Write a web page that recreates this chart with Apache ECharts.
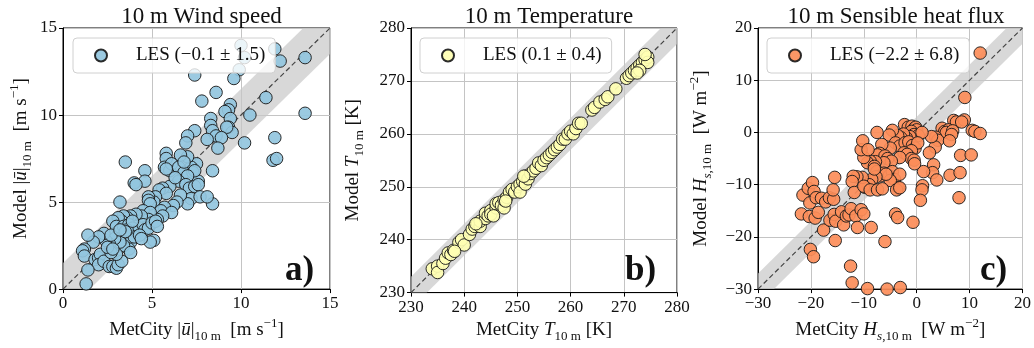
<!DOCTYPE html>
<html><head><meta charset="utf-8">
<script src="https://cdn.jsdelivr.net/npm/echarts@6/dist/echarts.min.js"></script>
<style>html,body{margin:0;padding:0;background:#fff}#c{width:1034px;height:348px}</style>
</head><body><div id="c"></div>
<script>
// ---------- data ----------
const windMetCity = [10.0,9.9,10.2,11.9,12.2,13.6,7.4,9.6,8.6,7.8,11.4,13.6,10.5,
9.4,9.3,9.1,9.4,9.3,9.5,9.2,8.3,8.3,8.4,8.6,8.9,8.7,8.1,10.2,7.4,7.0,6.9,11.9,11.8,12.0,
7.5,7.2,7.0,6.6,5.8,5.8,5.7,6.0,6.1,6.5,6.8,7.3,7.6,7.4,8.4,7.0,6.5,6.9,7.1,7.4,7.6,7.2,7.0,7.7,8.4,8.1,6.6,6.4,6.0,5.6,5.4,5.8,5.2,5.1,6.2,5.7,5.5,6.1,5.6,5.3,3.5,4.6,4.6,4.0,4.1,5.8,6.3,6.8,
3.2,4.8,4.8,4.9,4.5,4.9,4.8,4.4,4.1,3.8,3.6,3.4,3.3,3.1,2.8,3.0,3.4,3.7,3.9,4.1,4.5,4.6,4.8,5.0,5.2,5.3,5.1,4.9,3.6,3.8,3.7,3.4,3.2,2.9,2.6,2.4,2.3,2.0,1.7,1.4,1.2,1.1,1.2,1.8,2.0,2.1,2.0,2.3,2.6,2.8,3.0,3.1,3.3,3.0,2.7,2.5,1.4,1.3,3.8,4.0,4.3,4.4,3.6,3.9,3.5,2.8,2.7,3.2];
const windModel = [14.0,12.6,13.3,13.8,13.1,13.3,12.3,12.1,11.3,10.8,11.0,10.1,10.0,
10.6,10.3,10.2,9.8,9.3,9.0,9.3,9.8,9.4,9.1,8.8,8.7,8.1,8.6,8.4,9.1,8.8,8.4,8.7,7.4,7.5,
7.2,7.0,7.6,7.7,7.8,7.5,7.0,6.8,7.2,7.0,6.7,6.7,6.2,6.8,6.8,6.5,6.2,6.0,5.8,5.9,6.0,5.2,4.9,5.3,4.9,5.3,5.4,5.0,5.9,5.8,5.7,5.5,5.3,5.0,4.8,4.7,4.5,4.4,4.2,4.0,7.3,6.8,6.2,6.1,6.0,6.9,6.4,7.3,
5.0,5.3,5.1,4.9,4.5,4.4,4.0,4.2,4.3,4.2,4.1,4.2,3.9,4.1,3.9,3.6,3.6,3.7,3.5,3.3,3.7,3.4,3.5,3.8,3.9,3.6,2.8,2.7,3.0,2.7,2.3,2.5,2.7,2.9,2.6,2.8,3.2,3.0,2.7,3.1,2.3,2.2,1.9,1.7,1.8,2.0,1.4,1.6,1.3,1.3,1.2,1.4,1.6,2.0,2.1,2.4,1.1,0.3,2.1,3.0,3.1,2.9,3.4,3.9,3.3,2.3,3.1,3.4];

const tempMetCity = [234,235,235,236,236.5,237,237.5,238,239,239.5,240,241,241.5,242,242.5,243,243,244,244,244.5,245,245,246,246,246.5,247,247.5,247.5,248,248.5,249,249.5,250,250.5,250.5,251,251.5,251.5,252,252.5,253,253.5,254,254.5,255,255.5,256,256.5,257,257.5,258,258.5,259,259.5,260,260.5,261,261.5,262,264,264.5,265.5,266.5,267,268.5,270.5,271,271.5,272,272.5,273,273.5,274,274.5,274.5,274,273,272.5,242.2,245.5,247.8,251.2,238.2];
const tempModel = [234.5,235,233.8,235.5,236.5,237.5,237.2,238,239.5,240,239,241,242,242.5,243,242.5,243.5,244,245,244.5,245.5,244.8,246,246.8,247,246.5,246,247.5,248,249,249.5,249,250,250.5,249,251,250.5,252,251.5,252.5,253,253.5,254.5,254,255,255.5,256,256.5,257,257.5,258,259,259,260,260.5,260,261,262,262,264.5,265,266,266.5,267,268.5,270.5,271,271.5,272,272.5,273,273.5,274,274.5,273.5,275,272,271.5,243,244.5,247.3,252,237.8];

const fluxMetCity = [12,9.1,7.0,7.5,9.0,8.5,4.8,5.3,6.0,5.6,6.8,6.6,10.5,11.0,12.0,3.6,4.0,3.5,2.8,2.4,6.2,8.3,10.3,3.2,3.0,1.3,3.8,6.3,8.2,8.0,1.1,1.0,0.7,-0.7,
-2.3,-1.6,-0.9,-0.4,-0.2,0.0,-1.0,-0.5,0.3,1.0,-1.3,-2.0,-2.5,-3.0,-3.6,-4.6,-5.2,-7.5,-4.0,-3.2,-2.2,-1.5,-0.8,-0.3,0.2,-1.0,-2.4,-1.8,-1.0,-0.5,-0.4,-3.2,-5.0,-6.6,-7.0,-7.4,-6.0,-5.5,-4.8,-6.2,-7.8,-8.8,-9.3,-10.0,-10.5,-10.2,-9.2,-8.0,-7.5,-6.8,-6.2,-5.2,-4.6,-4.2,-3.2,-3.5,-5.0,-5.8,-7.7,-8.5,-9.0,-9.8,-10.3,-11.3,-12.0,-12.2,-11.8,-10.0,-8.8,-7.4,-6.5,-8.0,
-21.5,-20.5,-19.7,-19.4,-20.2,-19.0,-18.0,-17.2,-16.5,-15.7,-15.8,-15.5,-21.8,-20.3,-19.2,-18.6,-17.6,-16.4,-15.6,-15.3,-14.2,-13.8,-13.3,-12.8,-12.4,-11.5,-10.5,-10.0,-11.2,-8.6,-15.4,-20.1,-19.5,-6.0,-12.5,-12.2,-9.3,-5.6,-3.1,-4.0,-3.6,-3.8,-3.2];
const fluxModel = [15.2,6.7,2.3,2.0,2.4,2.0,0.8,0.2,0.5,0.0,0.3,-0.4,0.4,0.2,-0.2,-0.9,-1.5,-2.8,-0.8,-3.9,-1.6,-4.4,-4.3,-6.2,-7.7,-7.5,-9.1,-8.2,-7.7,-12.5,-10.2,-11.0,-13.0,-17.2,
1.5,1.0,1.2,0.8,1.0,0.5,0.2,-0.4,-0.6,0.0,-0.8,-1.0,-0.3,-1.0,-0.6,0.4,-0.5,0.0,-2.0,-2.6,-2.0,-1.8,-2.5,-3.0,-2.0,-3.5,-3.9,-4.2,-5.0,-5.3,-6.0,-4.8,-3.0,-2.3,-4.0,-4.3,-4.5,-5.0,-5.5,-5.8,-5.6,-5.5,-5.8,-4.8,-3.3,-1.6,-3.3,-6.5,-7.5,-8.3,-7.8,-8.3,-7.5,-9.0,-8.0,-10.6,-9.2,-8.0,-8.5,-9.0,-10.0,-10.5,-8.6,-8.5,-8.4,-9.4,-11.5,-10.3,-11.0,-11.0,-10.8,-7.0,
-12.0,-10.7,-9.6,-11.3,-13.5,-12.5,-12.6,-13.3,-12.5,-12.8,-11.0,-8.6,-15.6,-16.1,-16.4,-15.3,-18.7,-16.8,-15.7,-17.0,-15.2,-17.7,-16.0,-15.8,-14.6,-16.0,-14.8,-15.6,-18.2,-18.2,-20.7,-22.4,-23.8,-20.9,-25.6,-28.8,-29.9,-30.0,-29.7,-15.6,-16.3,-11.0,-10.6];

const panelTitles = ['10 m Wind speed', '10 m Temperature', '10 m Sensible heat flux'];
const legendNames = ['LES (\u22120.1 \u00b1 1.5)', 'LES (0.1 \u00b1 0.4)', 'LES (\u22122.2 \u00b1 6.8)'];
const panelLetters = ['a)', 'b)', 'c)'];
const axisMin = [0, 230, -30];
const axisMax = [15, 280, 20];
const axisStep = [5, 10, 10];
const bandHalfWidth = [1.5, 3, 3];
const pointColors = ['#92c5de', '#ffffb3', '#fc8d59'];

// ---------- layout ----------
const FONT = 'Liberation Serif';
const grids = [
  {left: 63, top: 28, width: 267, height: 266},
  {left: 411, top: 28, width: 266, height: 266},
  {left: 758, top: 28, width: 266, height: 266}
];
const yNameGap = [29, 45, 44];
const legendLeft = [73, 420, 767];
const letterPos = [[285, 253], [625, 253], [980, 253]];

const rich = {
  n: {fontFamily: FONT, fontSize: 19, color: '#111', lineHeight: 26},
  i: {fontFamily: FONT, fontSize: 19, color: '#111', fontStyle: 'italic', lineHeight: 26},
  sub: {fontFamily: FONT, fontSize: 13, color: '#111', lineHeight: 14, verticalAlign: 'bottom'},
  subi: {fontFamily: FONT, fontSize: 13, color: '#111', fontStyle: 'italic', lineHeight: 14, verticalAlign: 'bottom'},
  sup: {fontFamily: FONT, fontSize: 13, color: '#111', lineHeight: 14, verticalAlign: 'top'}
};
const xNames = [
  '{n|MetCity |}{i|\u016b}{n||}{sub|10 m}{n|  [m s}{sup|\u22121}{n|]}',
  '{n|MetCity }{i|T}{sub|10 m}{n| [K]}',
  '{n|MetCity }{i|H}{subi|s}{sub|,10 m}{n|  [W m}{sup|\u22122}{n|]}'
];
const yNames = [
  '{n|Model |}{i|\u016b}{n||}{sub|10 m}{n|  [m s}{sup|\u22121}{n|]}',
  '{n|Model }{i|T}{sub|10 m}{n| [K]}',
  '{n|Model }{i|H}{subi|s}{sub|,10 m}{n|  [W m}{sup|\u22122}{n|]}'
];

const metData = [windMetCity, tempMetCity, fluxMetCity];
const modelData = [windModel, tempModel, fluxModel];

const chart = echarts.init(document.getElementById('c'), null, {renderer: 'canvas'});
const xAxes = [], yAxes = [], series = [], legends = [], titles = [], graphics = [];
function fmt(v){ return String(v).replace('-', '\u2212'); }

for (let k = 0; k < 3; k++) {
  const common = {
    type: 'value', gridIndex: k, min: axisMin[k], max: axisMax[k], interval: axisStep[k],
    axisLine: {show: true, onZero: false, lineStyle: {color: '#000', width: 1}},
    axisTick: {show: true, inside: false, length: 4, lineStyle: {color: '#000', width: 1}},
    splitLine: {show: true, lineStyle: {color: '#c4c4c4', width: 1}},
    axisLabel: {fontFamily: FONT, fontSize: 17, color: '#111', margin: 6, formatter: fmt, showMinLabel: true, showMaxLabel: true},
    nameLocation: 'middle', nameTextStyle: {rich: rich}
  };
  xAxes.push(Object.assign({}, common, {name: xNames[k], nameGap: 24}));
  yAxes.push(Object.assign({}, common, {name: yNames[k], nameGap: yNameGap[k], nameRotate: 90}));

  const d = bandHalfWidth[k];
  // uncertainty band around the 1:1 line
  series.push({type: 'custom', xAxisIndex: k, yAxisIndex: k, silent: true, clip: true, z: 1,
    data: [[axisMin[k], axisMax[k], d]],
    renderItem: function (params, api) {
      const a = api.value(0), b = api.value(1), h = api.value(2);
      const pts = [api.coord([a, a - h]), api.coord([b, b - h]), api.coord([b, b + h]), api.coord([a, a + h])];
      return {type: 'polygon', shape: {points: pts}, style: {fill: 'rgba(200,200,200,0.7)'}};
    }});
  // 1:1 line
  series.push({type: 'line', xAxisIndex: k, yAxisIndex: k, symbol: 'none', silent: true,
    lineStyle: {color: '#444', width: 1.2, type: [5, 3]}, data: [[axisMin[k], axisMin[k]], [axisMax[k], axisMax[k]]], z: 2});
  // scatter
  const pts = metData[k].map((v, i) => [v, modelData[k][i]]);
  series.push({type: 'scatter', name: legendNames[k], xAxisIndex: k, yAxisIndex: k, data: pts,
    symbolSize: 12.5, itemStyle: {color: pointColors[k], opacity: 0.92, borderColor: '#1a1a1a', borderWidth: 1}, z: 3});

  legends.push({data: [legendNames[k]], left: legendLeft[k], top: 38, orient: 'horizontal',
    icon: 'circle', itemWidth: 12, itemHeight: 12, padding: [8, 10, 8, 21],
    backgroundColor: 'rgba(255,255,255,0.8)', borderColor: '#d0d0d0', borderWidth: 1, borderRadius: 4,
    selectedMode: false, formatter: name => '{s|}' + name,
    textStyle: {fontFamily: FONT, fontSize: 19, color: '#111', rich: {s: {width: 24}}}});

  titles.push({text: panelTitles[k], left: grids[k].left + grids[k].width / 2, top: 0, textAlign: 'center',
    textStyle: {fontFamily: FONT, fontSize: 23, fontWeight: 'normal', color: '#111'}});

  graphics.push({type: 'text', left: letterPos[k][0], top: letterPos[k][1], z: 100,
    style: {text: panelLetters[k], font: 'bold 35px "' + FONT + '"', fill: '#111'}});
}

chart.setOption({
  animation: false,
  backgroundColor: '#fff',
  title: titles,
  grid: grids.map(g => Object.assign({show: true, borderColor: '#000', borderWidth: 1, backgroundColor: 'transparent'}, g)),
  xAxis: xAxes,
  yAxis: yAxes,
  legend: legends,
  series: series,
  graphic: graphics
});
</script></body></html>
